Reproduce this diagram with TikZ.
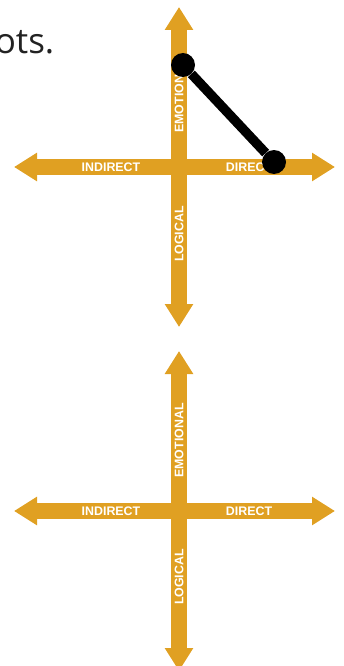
\documentclass[tikz,border=0pt]{standalone}
\usepackage{fontspec}
\usetikzlibrary{arrows.meta}
\newfontfamily\labfont{Liberation Sans}
\newfontfamily\txtfont{Open Sans}
\definecolor{gold}{RGB}{224,160,34}
\definecolor{ink}{RGB}{34,34,34}

\begin{document}
\begin{tikzpicture}[%
    x=1pt,
    y=-1pt,
    axis/.style={draw=gold, line width=16pt,
      {Triangle[length=23pt,width=27pt]}-{Triangle[length=23pt,width=27pt]}},
    lab/.style={text=white, font=\labfont\bfseries\fontsize{12.4}{14}\selectfont,
      inner sep=0pt},
    dot/.style={circle, fill=black, minimum size=24pt, inner sep=0pt},
    link/.style={draw=black, line width=9.5pt},
  ]
    \clip (0,0) rectangle (343,666);

    \node[anchor=base east, text=ink, inner sep=0pt,
      font=\txtfont\fontsize{35}{42}\selectfont] (tail) at (54.5,54) {ots.};

    % first cross
    \coordinate (n1) at (179,7);
    \coordinate (s1) at (179,327);
    \coordinate (w1) at (14,167);
    \coordinate (e1) at (335,167);
    \draw[axis] (w1) -- (e1);
    \draw[axis] (n1) -- (s1);
    \node[lab] (ind1) at (111,167) {INDIRECT};
    \node[lab] (dir1) at (249,167) {DIRECT};
    \node[lab,rotate=90] (emo1) at (179,95.5) {EMOTIONAL};
    \node[lab,rotate=90] (log1) at (179,234) {LOGICAL};

    \node[dot] (hi) at (183,65) {};
    \node[dot] (lo) at (274,162) {};
    \draw[link] (hi) -- (lo);

    % second cross
    \coordinate (n2) at (179,351);
    \coordinate (s2) at (179,671);
    \coordinate (w2) at (14,511);
    \coordinate (e2) at (335,511);
    \draw[axis] (w2) -- (e2);
    \draw[axis] (n2) -- (s2);
    \node[lab] (ind2) at (111,511) {INDIRECT};
    \node[lab] (dir2) at (249,511) {DIRECT};
    \node[lab,rotate=90] (emo2) at (179,440.5) {EMOTIONAL};
    \node[lab,rotate=90] (log2) at (179,577) {LOGICAL};
  \end{tikzpicture}
\end{document}
